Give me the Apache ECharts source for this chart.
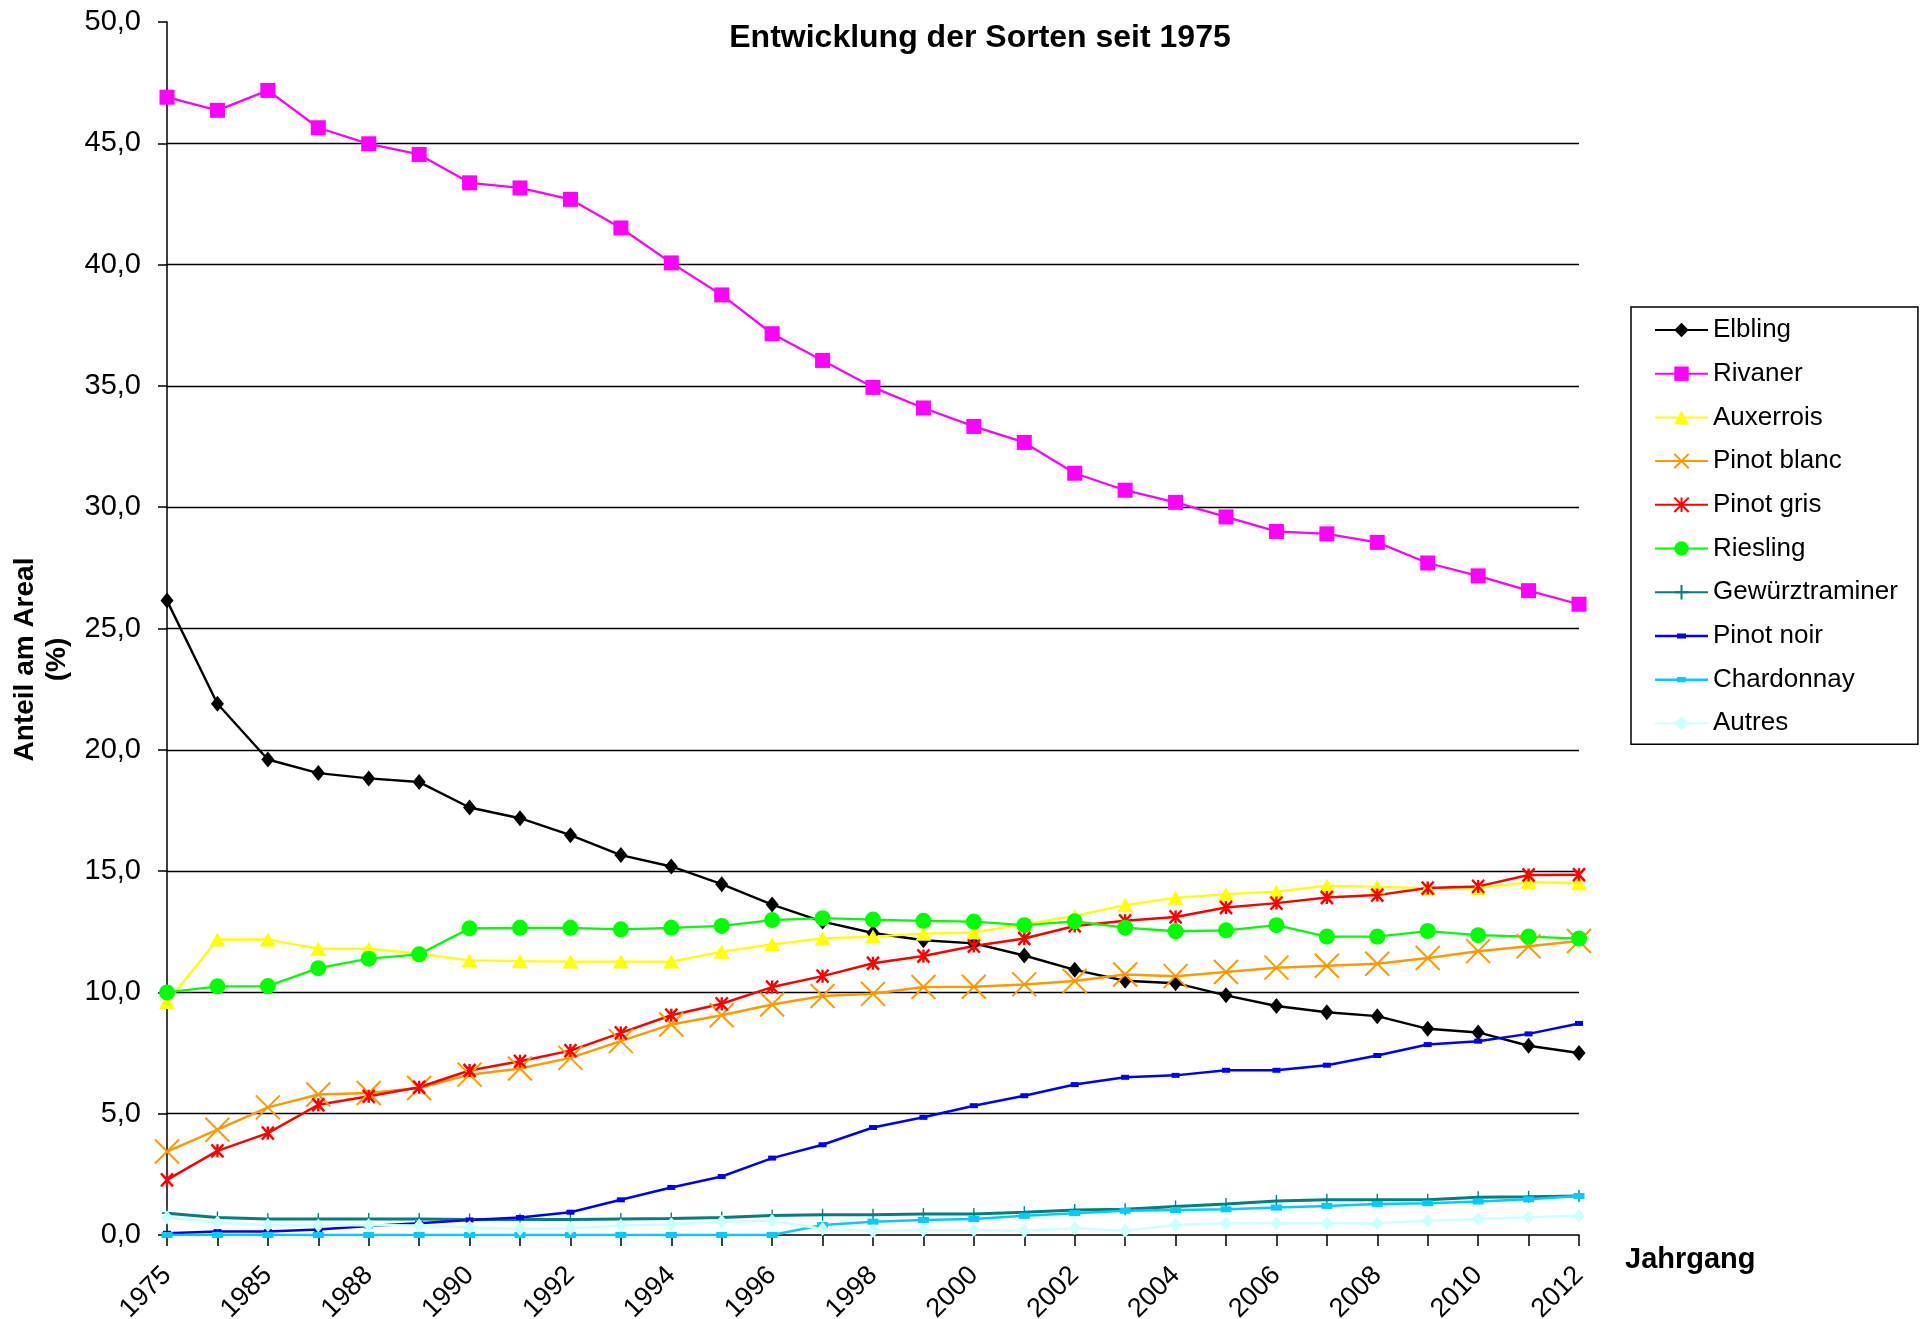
<!DOCTYPE html>
<html>
<head>
<meta charset="utf-8">
<script src="https://cdn.jsdelivr.net/npm/echarts@6/dist/echarts.min.js"></script>
<style>
html,body{margin:0;padding:0;background:#fff;}
#chart{width:1923px;height:1319px;}
</style>
</head>
<body>
<div id="chart"></div>
<script>
const years = ['1975','1980','1985','1987','1988','1989','1990','1991','1992','1993','1994','1995','1996','1997','1998','1999','2000','2001','2002','2003','2004','2005','2006','2007','2008','2009','2010','2011','2012'];
const yTicks = [0,5,10,15,20,25,30,35,40,45,50];

const elbling = [26.15,21.9,19.6,19.04,18.82,18.67,17.62,17.18,16.48,15.66,15.19,14.46,13.62,12.92,12.45,12.15,12.02,11.52,10.93,10.48,10.38,9.88,9.44,9.18,9.02,8.5,8.35,7.8,7.5];
const rivaner = [46.9,46.36,47.18,45.64,44.98,44.54,43.37,43.16,42.69,41.51,40.07,38.75,37.15,36.05,34.94,34.09,33.33,32.67,31.4,30.7,30.2,29.6,29.0,28.9,28.55,27.7,27.17,26.56,26.0];
const auxerrois = [9.6,12.18,12.18,11.8,11.8,11.6,11.32,11.29,11.27,11.27,11.27,11.68,11.98,12.23,12.3,12.42,12.47,12.8,13.15,13.6,13.9,14.05,14.15,14.4,14.35,14.3,14.3,14.55,14.5];
const pinotBlanc = [3.44,4.34,5.26,5.79,5.85,6.06,6.61,6.86,7.3,7.99,8.68,9.06,9.5,9.85,9.94,10.22,10.23,10.33,10.47,10.74,10.67,10.84,11.02,11.1,11.18,11.42,11.7,11.9,12.12];
const pinotGris = [2.27,3.47,4.2,5.37,5.72,6.09,6.78,7.16,7.6,8.33,9.06,9.53,10.22,10.67,11.2,11.5,11.91,12.22,12.74,12.95,13.11,13.5,13.68,13.91,14.01,14.3,14.37,14.84,14.85];
const riesling = [10.0,10.25,10.26,11.0,11.39,11.57,12.64,12.66,12.66,12.6,12.66,12.74,12.98,13.06,13.0,12.95,12.92,12.77,12.93,12.67,12.52,12.56,12.77,12.3,12.3,12.53,12.36,12.3,12.22];
const gewurz = [0.9,0.72,0.66,0.66,0.66,0.66,0.64,0.64,0.64,0.66,0.68,0.72,0.8,0.83,0.83,0.87,0.87,0.94,1.03,1.06,1.17,1.28,1.4,1.45,1.45,1.45,1.56,1.58,1.61];
const pinotNoir = [0.07,0.14,0.14,0.23,0.37,0.48,0.62,0.72,0.94,1.45,1.96,2.41,3.17,3.72,4.43,4.85,5.33,5.74,6.2,6.5,6.58,6.79,6.79,7.0,7.4,7.85,7.99,8.29,8.72];
const chardonnay = [0,0,0,0,0,0,0,0,0,0,0,0,0,0.41,0.55,0.62,0.66,0.79,0.9,1.0,1.03,1.06,1.13,1.2,1.28,1.31,1.38,1.47,1.61];
const autres = [0.72,0.52,0.41,0.39,0.41,0.39,0.32,0.25,0.28,0.39,0.44,0.55,0.59,0.25,0.17,0.21,0.21,0.18,0.28,0.18,0.41,0.48,0.48,0.48,0.48,0.59,0.66,0.73,0.79];

const FONT = 'Liberation Sans';

function mk(name, data, color, symbol, size, lw, stroke) {
  const s = {
    name: name, type: 'line', data: data,
    symbol: symbol, symbolSize: size, showAllSymbol: true,
    lineStyle: {color: color, width: lw},
    itemStyle: {color: color},
    emphasis: {disabled: true}
  };
  if (stroke) {
    s.itemStyle = {color: 'none', borderColor: color, borderWidth: stroke};
  }
  return s;
}

const series = [
  mk('Elbling', elbling, '#000000', 'diamond', [13,16], 2.4),
  mk('Rivaner', rivaner, '#FF00FF', 'rect', 15, 2.3),
  mk('Auxerrois', auxerrois, '#FFFF00', 'triangle', [16,14], 2.3),
  mk('Pinot blanc', pinotBlanc, '#FF9900', 'path://M0,0L10,10M10,0L0,10', [24,24], 2.5, 2),
  mk('Pinot gris', pinotGris, '#FF0000', 'path://M0,0L10,10M10,0L0,10M5,0L5,10', [12,13], 2.5, 2.5),
  mk('Riesling', riesling, '#00FF00', 'circle', 16, 2.3),
  mk('Gewürztraminer', gewurz, '#008080', 'path://M5,0L5,10M0,5L10,5', [10,12], 3, 1.5),
  mk('Pinot noir', pinotNoir, '#0000FF', 'rect', [8,5], 2.5),
  mk('Chardonnay', chardonnay, '#00CCFF', 'rect', [11,6], 2.5),
  mk('Autres', autres, '#CCFFFF', 'diamond', [12,14], 2.5)
];

const dashIcon = 'path://M0,0h0.1v0.1h-0.1z M52.9,17.9h0.1v0.1h-0.1z M0,7.8h53v2.6H0z M22,6.5h9v5.2h-9z';
const legendData = series.map(s => (s.name === 'Pinot noir' || s.name === 'Chardonnay') ? {name: s.name, icon: dashIcon} : {name: s.name});

const chart = echarts.init(document.getElementById('chart'), null, {renderer: 'canvas'});
chart.setOption({
  animation: false,
  backgroundColor: '#ffffff',
  title: {
    text: 'Entwicklung der Sorten seit 1975',
    left: 975, top: 17, textAlign: 'center',
    textStyle: {fontFamily: FONT, fontWeight: 'bold', fontSize: 32, color: '#000'}
  },
  legend: {
    orient: 'vertical', left: 1631, top: 307,
    padding: [10, 20, 8, 23],
    borderColor: '#000', borderWidth: 1.5,
    itemWidth: 53, itemHeight: 18, itemGap: 17.7,
    textStyle: {fontFamily: FONT, fontSize: 26, color: '#000', lineHeight: 26},
    data: legendData
  },
  grid: {left: 167, right: 344, top: 22, bottom: 84, containLabel: false, outerBoundsMode: 'none'},
  xAxis: {
    type: 'category', data: years, boundaryGap: false,
    name: 'Jahrgang', nameLocation: 'end', nameGap: 46,
    nameTextStyle: {fontFamily: FONT, fontWeight: 'bold', fontSize: 29, color: '#000', verticalAlign: 'top', padding: [10,0,0,0]},
    axisLine: {lineStyle: {color: '#000', width: 1.5}},
    axisTick: {show: true, interval: 0, length: 11, lineStyle: {color: '#000', width: 1.5}},
    axisLabel: {interval: 1, rotate: 45, margin: 36, fontFamily: FONT, fontSize: 27, color: '#000'},
    splitLine: {show: false}
  },
  yAxis: {
    type: 'value', min: yTicks[0], max: yTicks[yTicks.length-1], interval: 5,
    name: 'Anteil am Areal\n(%)', nameLocation: 'middle', nameGap: 77, nameRotate: 90,
    nameTextStyle: {fontFamily: FONT, fontWeight: 'bold', fontSize: 28, color: '#000', lineHeight: 32, padding: [0, 62, 0, 0]},
    axisLine: {show: true, lineStyle: {color: '#000', width: 1.5}},
    axisTick: {show: true, length: 9, lineStyle: {color: '#000', width: 1.5}},
    axisLabel: {margin: 26, fontFamily: FONT, fontSize: 29, color: '#000', formatter: v => v.toFixed(1).replace('.', ',')},
    splitLine: {show: true, showMaxLine: false, showMinLine: false, lineStyle: {color: '#000', width: 1.3}}
  },
  series: series
});
</script>
</body>
</html>
